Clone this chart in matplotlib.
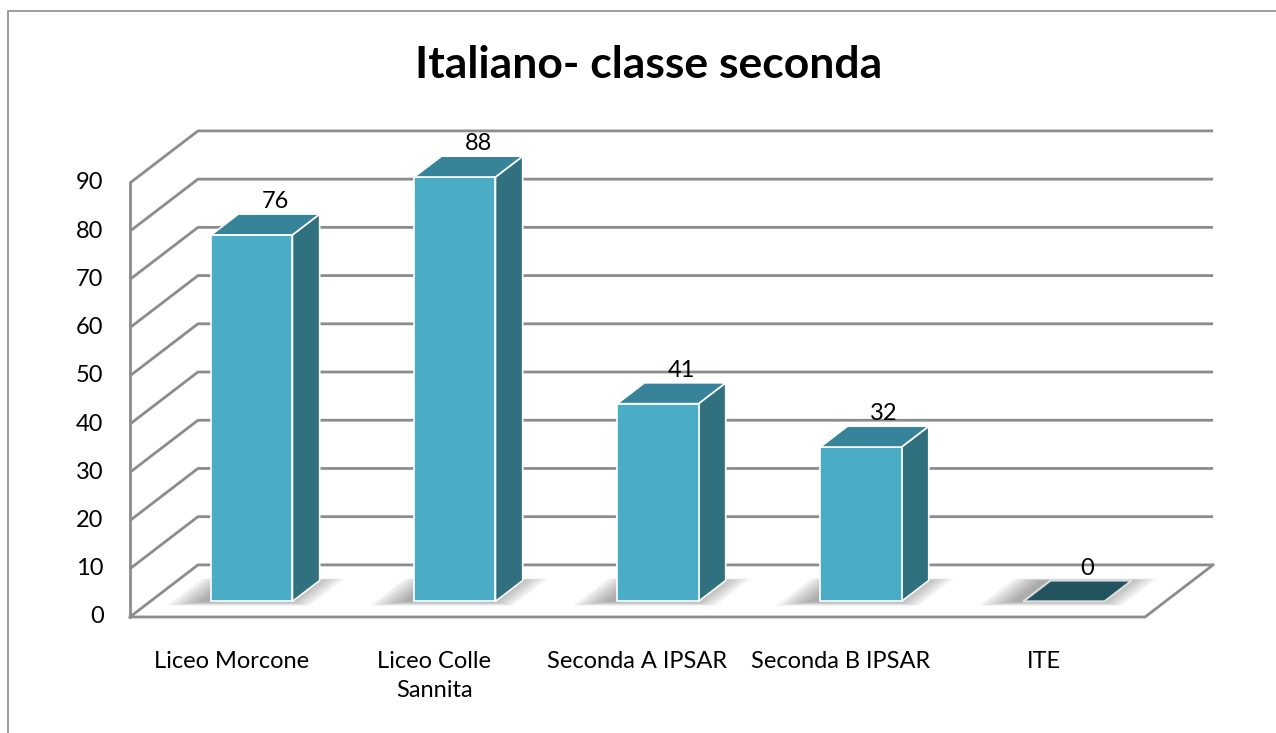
import numpy as np
import matplotlib.pyplot as plt
from matplotlib.patches import Polygon, Rectangle

categories = ['Liceo Morcone', 'Liceo Colle\nSannita', 'Seconda A IPSAR', 'Seconda B IPSAR', 'ITE']
values = [76, 88, 41, 32, 0]
yticks = [0, 10, 20, 30, 40, 50, 60, 70, 80, 90]
title = 'Italiano- classe seconda'

plt.rcParams['font.family'] = ['Lato', 'DejaVu Sans']

# oblique "3d" depth vector, in data units (x: categories, y: values)
DX, DY = 0.335, 10.8
D0, D1 = 0.3, 0.7          # bar front / back depth
BW = 0.4                   # bar width (fraction of category)
ncat = len(categories)

front_col = '#4bacc6'
top_col = '#37849a'
side_col = '#31707f'
zero_col = '#22535f'
grid_col = '#8c8c8c'


def proj(x, v, d):
    return (x + d * DX, v + d * DY)


fig = plt.figure(figsize=(12.76, 7.33), dpi=100)
ax = fig.add_axes([0, 0, 1, 1])
ax.set_xlim(-0.640, 5.645)
ax.set_ylim(-24.06, 127.95)
ax.axis('off')

# outer chart border
fig.patches.append(Rectangle((8 / 1276, -0.1), 1.2, 1 - 11 / 733 + 0.1, transform=fig.transFigure,
                             fill=False, edgecolor='#8c8c8c', lw=1.2))

# walls / gridlines
for v in yticks:
    x0, y0 = proj(0, v, 1)
    x1, y1 = proj(ncat, v, 1)
    ax.plot([0, x0, x1], [v, y0, y1], color=grid_col, lw=2, zorder=1, solid_capstyle='butt')
ax.plot([0, 0], [0, yticks[-1]], color=grid_col, lw=2, zorder=1)
# floor
fx, fy = proj(ncat, 0, 1)
ax.plot([0, ncat, fx], [0, 0, fy], color=grid_col, lw=2, zorder=1)

# y tick labels
for v in yticks:
    ax.text(-0.13, v, str(v), ha='right', va='center', fontsize=17, color='black')

# bars
for i, (lab, v) in enumerate(zip(categories, values)):
    x0 = i + (1 - BW) / 2
    x1 = x0 + BW
    foot = [proj(x0, 0, D0), proj(x1, 0, D0), proj(x1, 0, D1), proj(x0, 0, D1)]
    # soft shadow on the floor
    cx = x0 + BW / 2 - 0.04
    for k in np.linspace(0.15, 0.01, 8):
        sh = [proj(cx - BW / 2 - k, 0, D0 - k * 0.55), proj(cx + BW / 2 + k, 0, D0 - k * 0.55),
              proj(cx + BW / 2 + k, 0, D1 + k * 0.25), proj(cx - BW / 2 - k, 0, D1 + k * 0.25)]
        ax.add_patch(Polygon(sh, closed=True, facecolor='#303030', edgecolor='none', alpha=0.06, zorder=2))
    if v > 0:
        front = [proj(x0, 0, D0), proj(x1, 0, D0), proj(x1, v, D0), proj(x0, v, D0)]
        side = [proj(x1, 0, D0), proj(x1, 0, D1), proj(x1, v, D1), proj(x1, v, D0)]
        top = [proj(x0, v, D0), proj(x1, v, D0), proj(x1, v, D1), proj(x0, v, D1)]
        ax.add_patch(Polygon(side, closed=True, facecolor=side_col, edgecolor='white', lw=1.2, zorder=3))
        ax.add_patch(Polygon(front, closed=True, facecolor=front_col, edgecolor='white', lw=1.2, zorder=4))
        ax.add_patch(Polygon(top, closed=True, facecolor=top_col, edgecolor='white', lw=1.2, zorder=4))
    else:
        ax.add_patch(Polygon(foot, closed=True, facecolor=zero_col, edgecolor='#dddddd', lw=1.5, zorder=4))
    lx, ly = proj(i + 0.5, v, D1)
    ax.text(lx - 0.02, ly + 1.2, str(v), ha='center', va='baseline', fontsize=17, zorder=6)
    ax.text(i + 0.5, -7.0, lab, ha='center', va='top', fontsize=17, linespacing=1.5)

fig.text(0.508, 0.912, title, ha='center', va='center', fontsize=32, fontweight='bold')

fig.savefig('out.png', dpi=100)
